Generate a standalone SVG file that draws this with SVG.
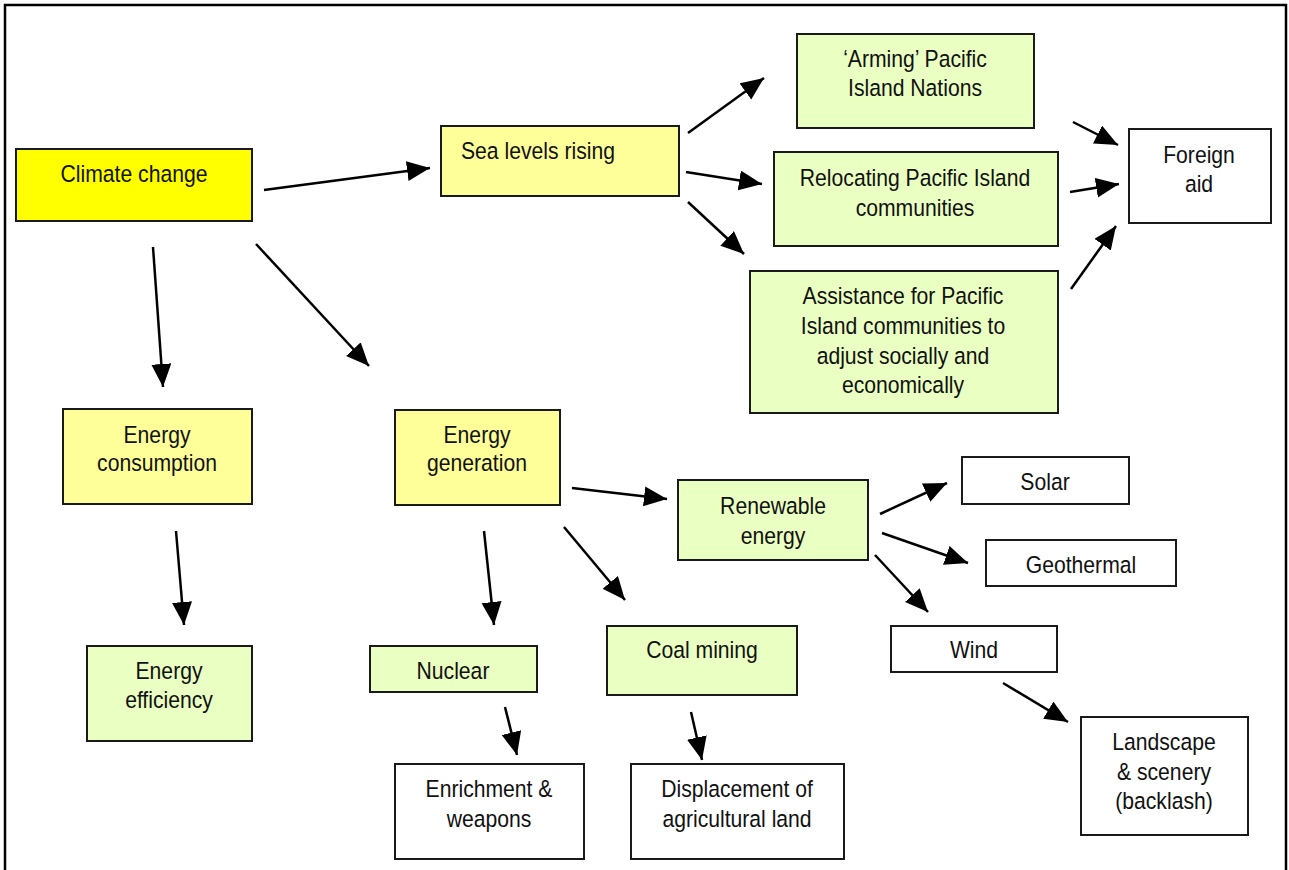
<svg xmlns="http://www.w3.org/2000/svg" width="1289" height="870" viewBox="0 0 1289 870">
<defs>
<marker id="ah" markerUnits="userSpaceOnUse" markerWidth="26" markerHeight="22" refX="23" refY="10" orient="auto">
<path d="M0,0 L23,10 L0,20 z" fill="#000"/>
</marker>
<style>
.b{stroke:#1a1a1a;stroke-width:2}
.y{fill:#ffff00}
.ly{fill:#ffff99}
.g{fill:#eaffc2}
.w{fill:#ffffff}
text{font-family:"Liberation Sans",Arial,sans-serif;font-size:23.5px;fill:#111;text-anchor:middle}
.c line{stroke:#000;stroke-width:2.5;marker-end:url(#ah)}
</style>
</defs>
<rect x="0" y="0" width="1289" height="870" fill="#fff"/>
<path d="M5,875 L5,5 L1286,5 L1286,875" fill="none" stroke="#000" stroke-width="2.5"/>
<g id="climate"><rect class="b y" x="16" y="149" width="236" height="72"/><text transform="translate(134 0) scale(.9 1)" y="182">Climate change</text></g>
<g id="sea"><rect class="b ly" x="441" y="126" width="238" height="70"/><text transform="translate(461 0) scale(.9 1)" y="159" style="text-anchor:start">Sea levels rising</text></g>
<g id="arming"><rect class="b g" x="797" y="34" width="237" height="94"/><text transform="translate(915 0) scale(.9 1)" y="67">‘Arming’ Pacific</text><text transform="translate(915 0) scale(.9 1)" y="96">Island Nations</text></g>
<g id="relocating"><rect class="b g" x="774" y="152" width="284" height="94"/><text transform="translate(915 0) scale(.9 1)" y="186">Relocating Pacific Island</text><text transform="translate(915 0) scale(.9 1)" y="216">communities</text></g>
<g id="assistance"><rect class="b g" x="750" y="271" width="308" height="142"/><text transform="translate(903 0) scale(.9 1)" y="304">Assistance for Pacific</text><text transform="translate(903 0) scale(.9 1)" y="334">Island communities to</text><text transform="translate(903 0) scale(.9 1)" y="364">adjust socially and</text><text transform="translate(903 0) scale(.9 1)" y="393">economically</text></g>
<g id="foreign"><rect class="b w" x="1129" y="129" width="142" height="94"/><text transform="translate(1199 0) scale(.9 1)" y="163">Foreign</text><text transform="translate(1199 0) scale(.9 1)" y="192">aid</text></g>
<g id="consumption"><rect class="b ly" x="63" y="409" width="189" height="95"/><text transform="translate(157 0) scale(.9 1)" y="443">Energy</text><text transform="translate(157 0) scale(.9 1)" y="471">consumption</text></g>
<g id="generation"><rect class="b ly" x="395" y="410" width="165" height="95"/><text transform="translate(477 0) scale(.9 1)" y="443">Energy</text><text transform="translate(477 0) scale(.9 1)" y="471">generation</text></g>
<g id="renewable"><rect class="b g" x="678" y="480" width="190" height="80"/><text transform="translate(773 0) scale(.9 1)" y="514">Renewable</text><text transform="translate(773 0) scale(.9 1)" y="544">energy</text></g>
<g id="solar"><rect class="b w" x="962" y="457" width="167" height="47"/><text transform="translate(1045 0) scale(.9 1)" y="490">Solar</text></g>
<g id="geothermal"><rect class="b w" x="986" y="540" width="190" height="46"/><text transform="translate(1081 0) scale(.9 1)" y="573">Geothermal</text></g>
<g id="wind"><rect class="b w" x="891" y="626" width="166" height="46"/><text transform="translate(974 0) scale(.9 1)" y="658">Wind</text></g>
<g id="landscape"><rect class="b w" x="1081" y="717" width="167" height="118"/><text transform="translate(1164 0) scale(.9 1)" y="750">Landscape</text><text transform="translate(1164 0) scale(.9 1)" y="780">&amp; scenery</text><text transform="translate(1164 0) scale(.9 1)" y="809">(backlash)</text></g>
<g id="efficiency"><rect class="b g" x="87" y="646" width="165" height="95"/><text transform="translate(169 0) scale(.9 1)" y="679">Energy</text><text transform="translate(169 0) scale(.9 1)" y="708">efficiency</text></g>
<g id="nuclear"><rect class="b g" x="370" y="646" width="167" height="46"/><text transform="translate(453 0) scale(.9 1)" y="679">Nuclear</text></g>
<g id="coal"><rect class="b g" x="607" y="626" width="190" height="69"/><text transform="translate(702 0) scale(.9 1)" y="658">Coal mining</text></g>
<g id="enrichment"><rect class="b w" x="395" y="764" width="189" height="95"/><text transform="translate(489 0) scale(.9 1)" y="797">Enrichment &amp;</text><text transform="translate(489 0) scale(.9 1)" y="827">weapons</text></g>
<g id="displacement"><rect class="b w" x="631" y="764" width="213" height="95"/><text transform="translate(737 0) scale(.9 1)" y="797">Displacement of</text><text transform="translate(737 0) scale(.9 1)" y="827">agricultural land</text></g>
<g id="connectors" class="c">
<line x1="264" y1="190" x2="430" y2="168"/>
<line x1="153" y1="247" x2="163" y2="387"/>
<line x1="256" y1="244" x2="369" y2="366"/>
<line x1="688" y1="133" x2="764" y2="78"/>
<line x1="686" y1="172" x2="762" y2="184"/>
<line x1="688" y1="202" x2="744" y2="254"/>
<line x1="1073" y1="122" x2="1118" y2="145"/>
<line x1="1070" y1="192" x2="1119" y2="184"/>
<line x1="1071" y1="289" x2="1116" y2="226"/>
<line x1="572" y1="488" x2="667" y2="499"/>
<line x1="484" y1="531" x2="494" y2="625"/>
<line x1="564" y1="527" x2="625" y2="600"/>
<line x1="880" y1="514" x2="947" y2="483"/>
<line x1="882" y1="533" x2="968" y2="563"/>
<line x1="875" y1="555" x2="928" y2="612"/>
<line x1="1003" y1="683" x2="1068" y2="722"/>
<line x1="176" y1="531" x2="184" y2="625"/>
<line x1="505" y1="707" x2="517" y2="755"/>
<line x1="691" y1="712" x2="702" y2="760"/>
</g>
</svg>
